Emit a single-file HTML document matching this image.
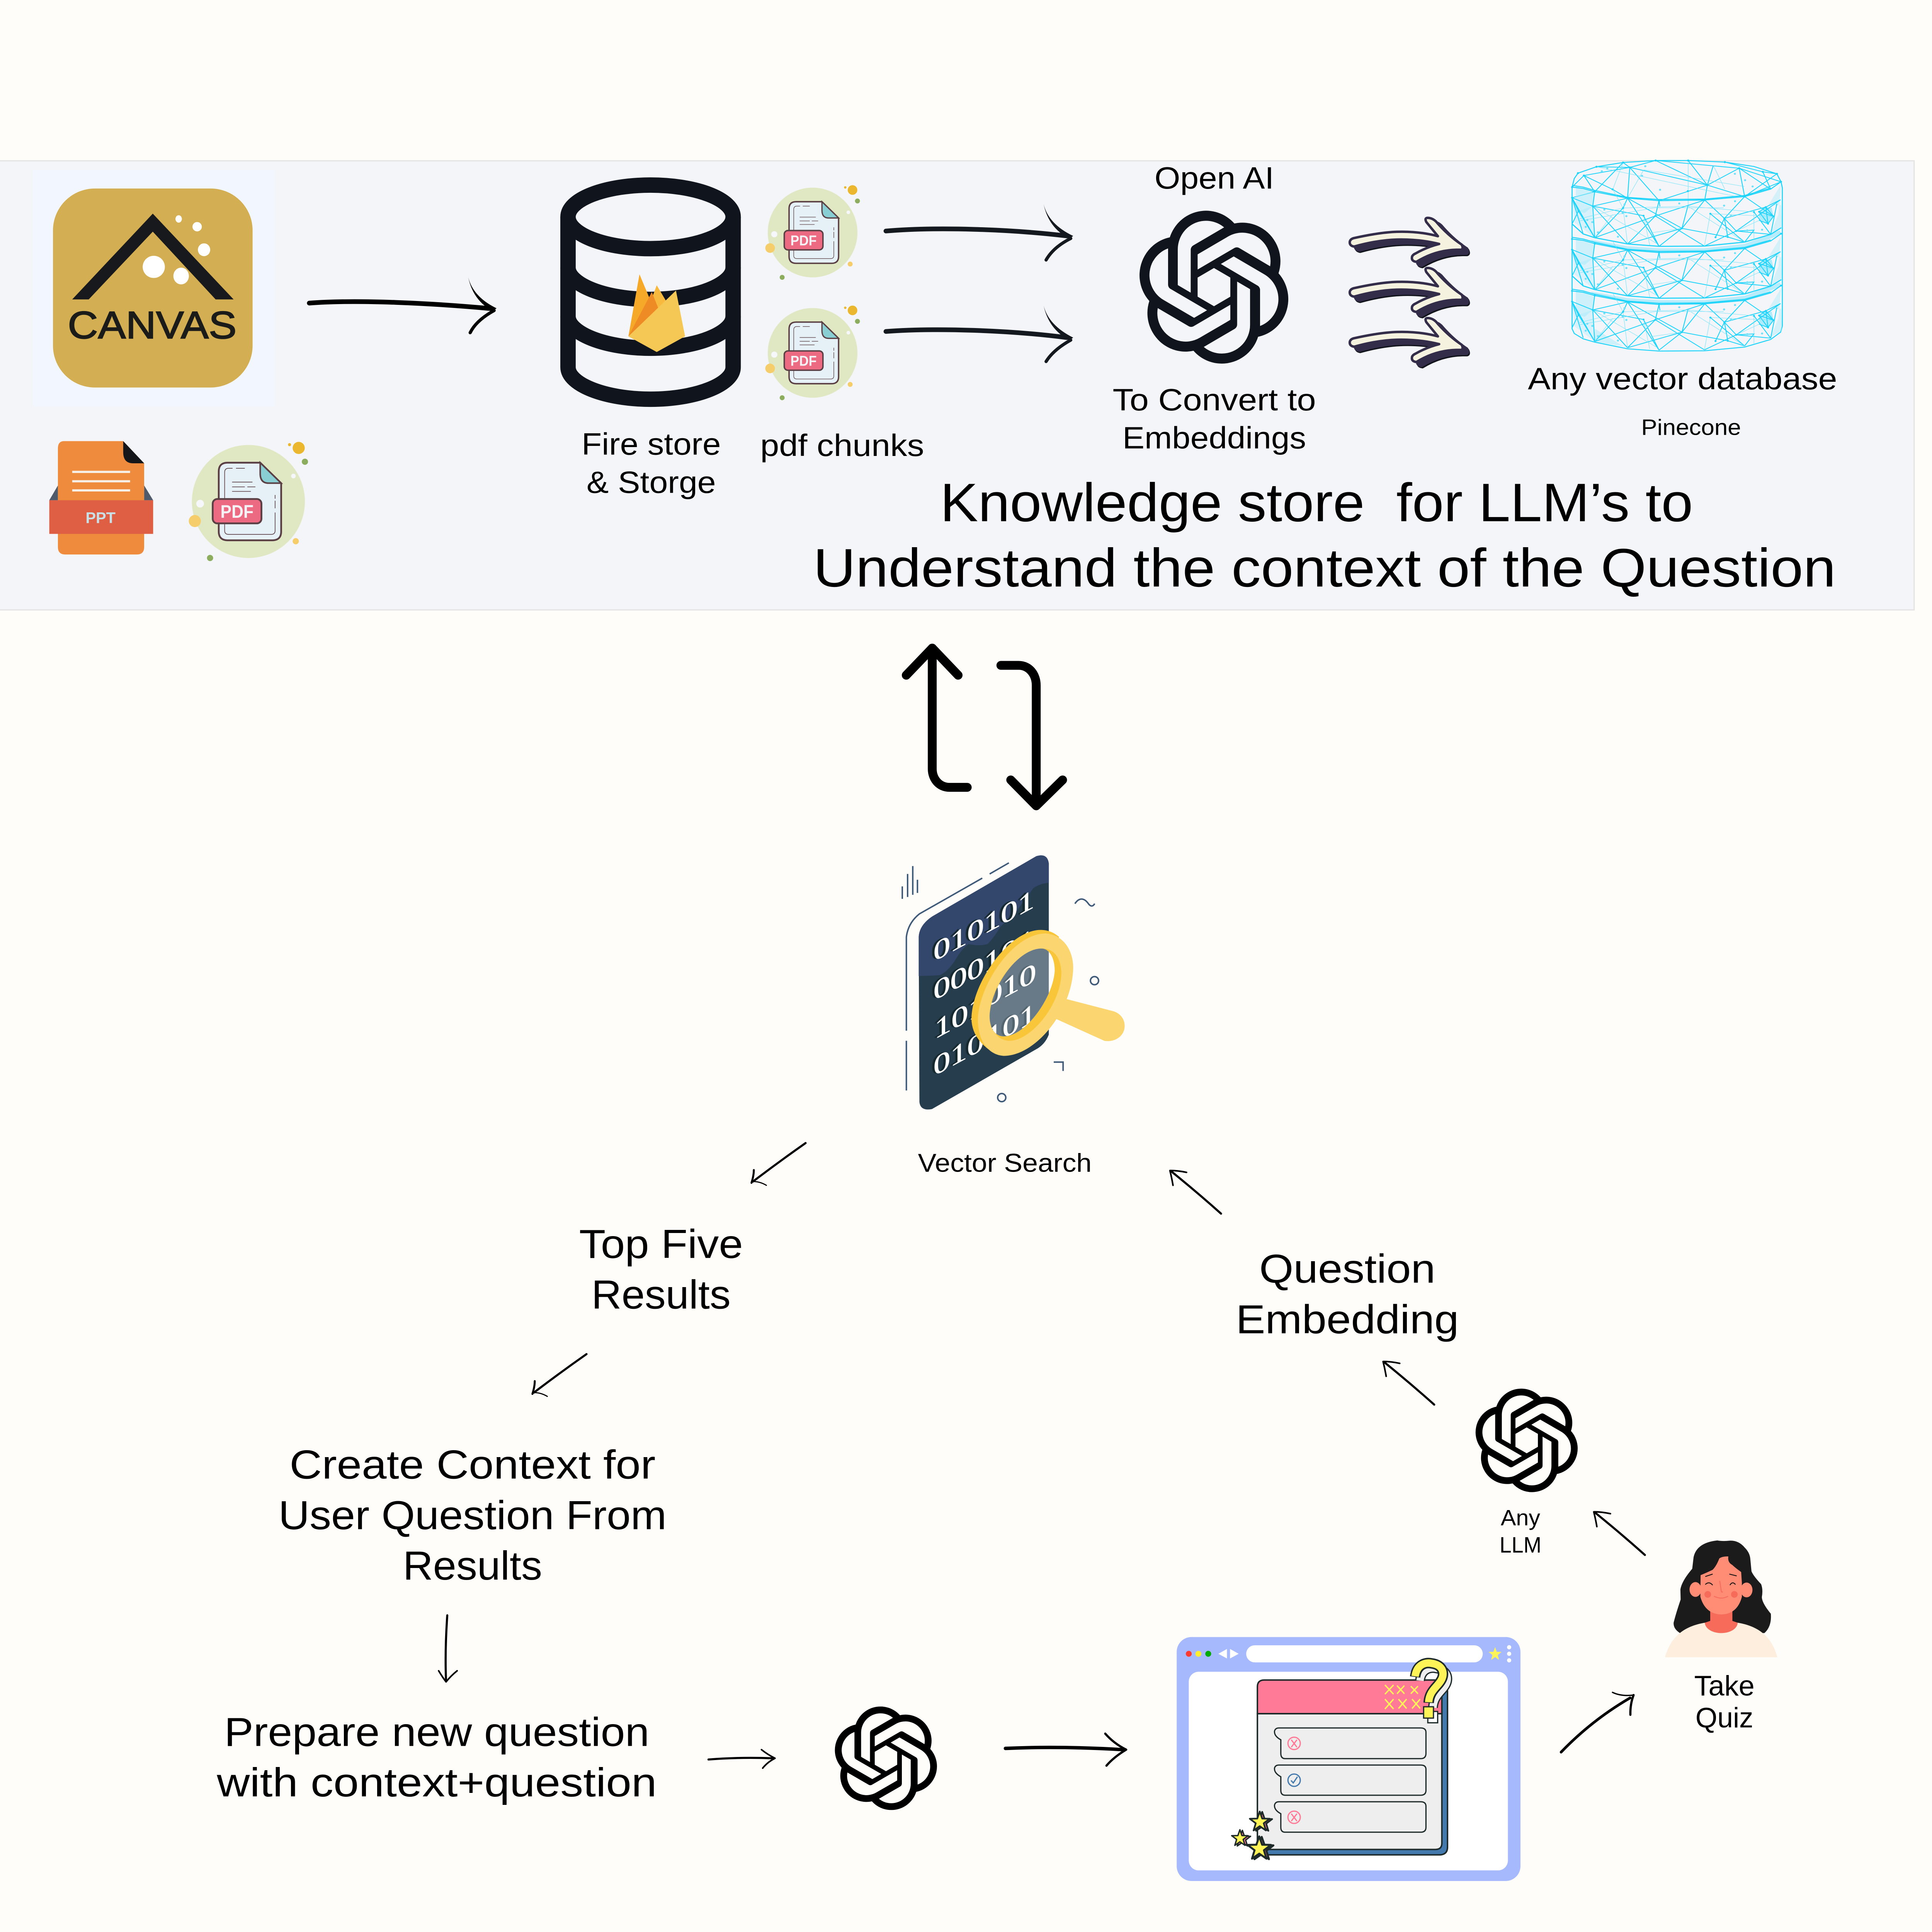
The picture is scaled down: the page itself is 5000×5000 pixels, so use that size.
<!DOCTYPE html>
<html><head><meta charset="utf-8"><title>Knowledge store diagram</title>
<style>
html,body{margin:0;padding:0;background:#fffdf9}
svg{display:block}
text{font-family:"Liberation Sans",sans-serif;fill:#000;white-space:pre}
.hand{fill:none;stroke:#000;stroke-linecap:round;stroke-linejoin:round}
.bin{fill:#fff;stroke:#fff;stroke-width:.35;font-family:"Liberation Serif",serif;font-size:22px}
</style></head><body>
<svg xmlns="http://www.w3.org/2000/svg" width="5000" height="5000" viewBox="0 0 1568 1568">
<rect width="1568" height="1568" fill="#fffdf9"/>
<rect x="-2" y="130.5" width="1555.5" height="364.5" fill="#f4f5f9" stroke="#e4e4e4" stroke-width="1"/>

<!-- Canvas logo -->
<rect x="27" y="138" width="196" height="192" fill="#f2f6fe"/>
<rect x="43" y="153" width="162" height="161.5" rx="34" fill="#d3ae52"/>
<path d="M124 173.4L58.6 243H72L124 188L175 243H189.6Z" fill="#17191c"/>
<g fill="#fff"><ellipse cx="145" cy="177.7" rx="2.6" ry="3"/><ellipse cx="160" cy="184" rx="3.8" ry="3.8"/><ellipse cx="165.6" cy="202.7" rx="5" ry="5.2"/><ellipse cx="124.8" cy="216.6" rx="9" ry="9"/><ellipse cx="147" cy="224" rx="6.3" ry="6.8"/></g>
<text x="55" y="274.5" font-size="31" textLength="137" lengthAdjust="spacingAndGlyphs" style="fill:#1b1c1a;stroke:#1b1c1a;stroke-width:.7">CANVAS</text>

<!-- PPT icon -->
<path d="M47 394L40 406H47ZM117 394L124.3 406H117Z" fill="#4f5a6a"/>
<path d="M52 358H100L117 376V444Q117 450 111 450H53Q47 450 47 444V364Q47 358 52 358Z" fill="#ee8b3d"/>
<path d="M100 358L117 376H108Q100 376 100 367Z" fill="#14161a"/>
<g stroke="#f6f0e8" stroke-width="1.8"><path d="M58.6 383H105.6M58.6 390.6H105.6M58.6 398H105.6"/></g>
<rect x="40" y="406" width="84.3" height="27.3" fill="#df5f45"/>
<text x="81.6" y="424.5" font-size="12.5" font-weight="700" text-anchor="middle" style="fill:#c9e0e6">PPT</text>

<!-- PDF icon big -->
<g transform="translate(201.6 407) scale(1.26)">
<circle r="36.4" fill="#dfe8c3"/>
<path d="M-13.4 -25H7.6L21.1 -11.8V19.3Q21.1 25 15.4 25H-13.4Q-19.1 25 -19.1 19.3V-19.3Q-19.1 -25 -13.4 -25Z" fill="#e6f1f7" stroke="#5a3f44" stroke-width="1.15"/>
<path d="M7.6 -25L21.1 -11.8H13Q7.6 -11.8 7.6 -18Z" fill="#88ced3" stroke="#5a3f44" stroke-width="1"/>
<path d="M-10.2 -21.4H-12.7Q-15.3 -21.4 -15.3 -18.8V18.8Q-15.3 21.2 -12.7 21.2H14.6Q17.2 21.2 17.2 18.8V7.1M17.2 4.4V-.5M17.2 -1.8V-4.2M-8 -21.4H-2.3M-10.5 -12.5H2.6M-10.5 -9.4H-2.3M-.7 -9.4H4.5M-10.5 -6.5H1.6" fill="none" stroke="#5a3f44" stroke-width=".42"/>
<rect x="-23" y="-1.6" width="31.4" height="15.7" rx="3" fill="#ec6a82" stroke="#5a3f44" stroke-width="1.15"/>
<text x="-18" y="10.5" font-size="11.7" font-weight="700" textLength="21.3" lengthAdjust="spacingAndGlyphs" style="fill:#f6f3f6">PDF</text>
<circle cx="32.4" cy="-34.5" r="3.9" fill="#eab72e"/><circle cx="26.5" cy="-36.6" r="1" fill="#eab72e"/><circle cx="36.4" cy="-25.6" r="2" fill="#8cad5d"/><circle cx="29" cy="-16.4" r="1.5" fill="#f6f7fb"/><circle cx="-31.1" cy="1.4" r="2.5" fill="#f6f7fb"/><circle cx="-34.5" cy="12.6" r="3.9" fill="#f5cd6a"/><circle cx="30.5" cy="25.6" r="2" fill="#f5cd6a"/><circle cx="-24.7" cy="36.4" r="2" fill="#8cad5d"/>
</g>

<!-- Arrow canvas to store -->
<path d="M251 246C290 243 350 246 399 250.5" class="hand" stroke-width="3.8"/>
<path d="M380 225Q384 241 403 250.2L400 252.5Q384 244 380 225Z"/>
<path d="M401 252C392 257 385 263 381.6 270" class="hand" stroke-width="2.6"/>

<!-- Database -->
<g fill="none" stroke="#10141c" stroke-width="12.5">
<ellipse cx="528" cy="176" rx="67" ry="25.8"/>
<path d="M461 176V298C461 312 491 324 528 324S595 312 595 298V176"/>
<path d="M461 217C461 231 491 243 528 243S595 231 595 217"/>
<path d="M461 256.6C461 270.6 491 282.6 528 282.6S595 270.6 595 256.6"/>
</g>
<path d="M510 273L519 222.6L533 256Z" fill="#f6a828"/>
<path d="M523 258L533 231.5L541 245L527 262Z" fill="#f8b93f"/>
<path d="M510 273L529 237L535 252Z" fill="#ef8b25"/>
<path d="M510 273L548.6 235.8L556 273L533 285.7Z" fill="#f5c855"/>

<!-- PDF icon top 1 -->
<g transform="translate(659.5 188.7)">
<circle r="36.4" fill="#dfe8c3"/>
<path d="M-13.4 -25H7.6L21.1 -11.8V19.3Q21.1 25 15.4 25H-13.4Q-19.1 25 -19.1 19.3V-19.3Q-19.1 -25 -13.4 -25Z" fill="#e6f1f7" stroke="#5a3f44" stroke-width="1.15"/>
<path d="M7.6 -25L21.1 -11.8H13Q7.6 -11.8 7.6 -18Z" fill="#88ced3" stroke="#5a3f44" stroke-width="1"/>
<path d="M-10.2 -21.4H-12.7Q-15.3 -21.4 -15.3 -18.8V18.8Q-15.3 21.2 -12.7 21.2H14.6Q17.2 21.2 17.2 18.8V7.1M17.2 4.4V-.5M17.2 -1.8V-4.2M-8 -21.4H-2.3M-10.5 -12.5H2.6M-10.5 -9.4H-2.3M-.7 -9.4H4.5M-10.5 -6.5H1.6" fill="none" stroke="#5a3f44" stroke-width=".42"/>
<rect x="-23" y="-1.6" width="31.4" height="15.7" rx="3" fill="#ec6a82" stroke="#5a3f44" stroke-width="1.15"/>
<text x="-18" y="10.5" font-size="11.7" font-weight="700" textLength="21.3" lengthAdjust="spacingAndGlyphs" style="fill:#f6f3f6">PDF</text>
<circle cx="32.4" cy="-34.5" r="3.9" fill="#eab72e"/><circle cx="26.5" cy="-36.6" r="1" fill="#eab72e"/><circle cx="36.4" cy="-25.6" r="2" fill="#8cad5d"/><circle cx="29" cy="-16.4" r="1.5" fill="#f6f7fb"/><circle cx="-31.1" cy="1.4" r="2.5" fill="#f6f7fb"/><circle cx="-34.5" cy="12.6" r="3.9" fill="#f5cd6a"/><circle cx="30.5" cy="25.6" r="2" fill="#f5cd6a"/><circle cx="-24.7" cy="36.4" r="2" fill="#8cad5d"/>
</g>
<!-- PDF icon top 2 -->
<g transform="translate(659.5 286.4)">
<circle r="36.4" fill="#dfe8c3"/>
<path d="M-13.4 -25H7.6L21.1 -11.8V19.3Q21.1 25 15.4 25H-13.4Q-19.1 25 -19.1 19.3V-19.3Q-19.1 -25 -13.4 -25Z" fill="#e6f1f7" stroke="#5a3f44" stroke-width="1.15"/>
<path d="M7.6 -25L21.1 -11.8H13Q7.6 -11.8 7.6 -18Z" fill="#88ced3" stroke="#5a3f44" stroke-width="1"/>
<path d="M-10.2 -21.4H-12.7Q-15.3 -21.4 -15.3 -18.8V18.8Q-15.3 21.2 -12.7 21.2H14.6Q17.2 21.2 17.2 18.8V7.1M17.2 4.4V-.5M17.2 -1.8V-4.2M-8 -21.4H-2.3M-10.5 -12.5H2.6M-10.5 -9.4H-2.3M-.7 -9.4H4.5M-10.5 -6.5H1.6" fill="none" stroke="#5a3f44" stroke-width=".42"/>
<rect x="-23" y="-1.6" width="31.4" height="15.7" rx="3" fill="#ec6a82" stroke="#5a3f44" stroke-width="1.15"/>
<text x="-18" y="10.5" font-size="11.7" font-weight="700" textLength="21.3" lengthAdjust="spacingAndGlyphs" style="fill:#f6f3f6">PDF</text>
<circle cx="32.4" cy="-34.5" r="3.9" fill="#eab72e"/><circle cx="26.5" cy="-36.6" r="1" fill="#eab72e"/><circle cx="36.4" cy="-25.6" r="2" fill="#8cad5d"/><circle cx="29" cy="-16.4" r="1.5" fill="#f6f7fb"/><circle cx="-31.1" cy="1.4" r="2.5" fill="#f6f7fb"/><circle cx="-34.5" cy="12.6" r="3.9" fill="#f5cd6a"/><circle cx="30.5" cy="25.6" r="2" fill="#f5cd6a"/><circle cx="-24.7" cy="36.4" r="2" fill="#8cad5d"/>
</g>

<!-- Arrows to OpenAI -->
<g style="--c:#14181f">
<path d="M719 187.5C760 184 820 186 866 191.5" class="hand" stroke-width="3.8" style="stroke:#14181f"/>
<path d="M847 165.7Q851 182 871 191.5L868 193.8Q851 185 847 165.7Z" fill="#14181f"/>
<path d="M869 193.5C860 198 853 204 849 211" class="hand" stroke-width="2.6" style="stroke:#14181f"/>
<path d="M719 269C760 266 820 268 866 274" class="hand" stroke-width="3.8" style="stroke:#14181f"/>
<path d="M847 248Q851 264 871 274L868 276.3Q851 267 847 248Z" fill="#14181f"/>
<path d="M869 276C860 281 853 287 849 293.4" class="hand" stroke-width="2.6" style="stroke:#14181f"/>
</g>

<!-- OpenAI logos -->
<path transform="translate(924 171) scale(5.1 5.17)" fill="#10141c" d="M22.2819 9.8211a5.9847 5.9847 0 0 0-.5157-4.9108 6.0462 6.0462 0 0 0-6.5098-2.9A6.0651 6.0651 0 0 0 4.9807 4.1818a5.9847 5.9847 0 0 0-3.9977 2.9 6.0462 6.0462 0 0 0 .7427 7.0966 5.98 5.98 0 0 0 .511 4.9107 6.051 6.051 0 0 0 6.5146 2.9001A5.9847 5.9847 0 0 0 13.2599 24a6.0557 6.0557 0 0 0 5.7718-4.2058 5.9894 5.9894 0 0 0 3.9977-2.9001 6.0557 6.0557 0 0 0-.7475-7.0729zm-9.022 12.6081a4.4755 4.4755 0 0 1-2.8764-1.0408l.1419-.0804 4.7783-2.7582a.7948.7948 0 0 0 .3927-.6813v-6.7369l2.02 1.1686a.071.071 0 0 1 .038.052v5.5826a4.504 4.504 0 0 1-4.4945 4.4944zm-9.6607-4.1254a4.4708 4.4708 0 0 1-.5346-3.0137l.142.0852 4.783 2.7582a.7712.7712 0 0 0 .7806 0l5.8428-3.3685v2.3324a.0804.0804 0 0 1-.0332.0615L9.74 19.9502a4.4992 4.4992 0 0 1-6.1408-1.6464zM2.3408 7.8956a4.485 4.485 0 0 1 2.3655-1.9728V11.6a.7664.7664 0 0 0 .3879.6765l5.8144 3.3543-2.0201 1.1685a.0757.0757 0 0 1-.071 0l-4.8303-2.7865A4.504 4.504 0 0 1 2.3408 7.872zm16.5963 3.8558L13.1038 8.364 15.1192 7.2a.0757.0757 0 0 1 .071 0l4.8303 2.7913a4.4944 4.4944 0 0 1-.6765 8.1042v-5.6772a.79.79 0 0 0-.407-.667zm2.0107-3.0231l-.142-.0852-4.7735-2.7818a.7759.7759 0 0 0-.7854 0L9.409 9.2297V6.8974a.0662.0662 0 0 1 .0284-.0615l4.8303-2.7866a4.4992 4.4992 0 0 1 6.6802 4.66zM8.3065 12.863l-2.02-1.1638a.0804.0804 0 0 1-.038-.0567V6.0742a4.4992 4.4992 0 0 1 7.3757-3.4537l-.142.0805L8.704 5.459a.7948.7948 0 0 0-.3927.6813zm1.0976-2.3654l2.602-1.4998 2.6069 1.4998v2.9994l-2.5974 1.4997-2.6067-1.4997Z"/>
<path transform="translate(677 1385) scale(3.5)" fill="#000" d="M22.2819 9.8211a5.9847 5.9847 0 0 0-.5157-4.9108 6.0462 6.0462 0 0 0-6.5098-2.9A6.0651 6.0651 0 0 0 4.9807 4.1818a5.9847 5.9847 0 0 0-3.9977 2.9 6.0462 6.0462 0 0 0 .7427 7.0966 5.98 5.98 0 0 0 .511 4.9107 6.051 6.051 0 0 0 6.5146 2.9001A5.9847 5.9847 0 0 0 13.2599 24a6.0557 6.0557 0 0 0 5.7718-4.2058 5.9894 5.9894 0 0 0 3.9977-2.9001 6.0557 6.0557 0 0 0-.7475-7.0729zm-9.022 12.6081a4.4755 4.4755 0 0 1-2.8764-1.0408l.1419-.0804 4.7783-2.7582a.7948.7948 0 0 0 .3927-.6813v-6.7369l2.02 1.1686a.071.071 0 0 1 .038.052v5.5826a4.504 4.504 0 0 1-4.4945 4.4944zm-9.6607-4.1254a4.4708 4.4708 0 0 1-.5346-3.0137l.142.0852 4.783 2.7582a.7712.7712 0 0 0 .7806 0l5.8428-3.3685v2.3324a.0804.0804 0 0 1-.0332.0615L9.74 19.9502a4.4992 4.4992 0 0 1-6.1408-1.6464zM2.3408 7.8956a4.485 4.485 0 0 1 2.3655-1.9728V11.6a.7664.7664 0 0 0 .3879.6765l5.8144 3.3543-2.0201 1.1685a.0757.0757 0 0 1-.071 0l-4.8303-2.7865A4.504 4.504 0 0 1 2.3408 7.872zm16.5963 3.8558L13.1038 8.364 15.1192 7.2a.0757.0757 0 0 1 .071 0l4.8303 2.7913a4.4944 4.4944 0 0 1-.6765 8.1042v-5.6772a.79.79 0 0 0-.407-.667zm2.0107-3.0231l-.142-.0852-4.7735-2.7818a.7759.7759 0 0 0-.7854 0L9.409 9.2297V6.8974a.0662.0662 0 0 1 .0284-.0615l4.8303-2.7866a4.4992 4.4992 0 0 1 6.6802 4.66zM8.3065 12.863l-2.02-1.1638a.0804.0804 0 0 1-.038-.0567V6.0742a4.4992 4.4992 0 0 1 7.3757-3.4537l-.142.0805L8.704 5.459a.7948.7948 0 0 0-.3927.6813zm1.0976-2.3654l2.602-1.4998 2.6069 1.4998v2.9994l-2.5974 1.4997-2.6067-1.4997Z"/>
<path transform="translate(1197 1127) scale(3.5)" fill="#000" d="M22.2819 9.8211a5.9847 5.9847 0 0 0-.5157-4.9108 6.0462 6.0462 0 0 0-6.5098-2.9A6.0651 6.0651 0 0 0 4.9807 4.1818a5.9847 5.9847 0 0 0-3.9977 2.9 6.0462 6.0462 0 0 0 .7427 7.0966 5.98 5.98 0 0 0 .511 4.9107 6.051 6.051 0 0 0 6.5146 2.9001A5.9847 5.9847 0 0 0 13.2599 24a6.0557 6.0557 0 0 0 5.7718-4.2058 5.9894 5.9894 0 0 0 3.9977-2.9001 6.0557 6.0557 0 0 0-.7475-7.0729zm-9.022 12.6081a4.4755 4.4755 0 0 1-2.8764-1.0408l.1419-.0804 4.7783-2.7582a.7948.7948 0 0 0 .3927-.6813v-6.7369l2.02 1.1686a.071.071 0 0 1 .038.052v5.5826a4.504 4.504 0 0 1-4.4945 4.4944zm-9.6607-4.1254a4.4708 4.4708 0 0 1-.5346-3.0137l.142.0852 4.783 2.7582a.7712.7712 0 0 0 .7806 0l5.8428-3.3685v2.3324a.0804.0804 0 0 1-.0332.0615L9.74 19.9502a4.4992 4.4992 0 0 1-6.1408-1.6464zM2.3408 7.8956a4.485 4.485 0 0 1 2.3655-1.9728V11.6a.7664.7664 0 0 0 .3879.6765l5.8144 3.3543-2.0201 1.1685a.0757.0757 0 0 1-.071 0l-4.8303-2.7865A4.504 4.504 0 0 1 2.3408 7.872zm16.5963 3.8558L13.1038 8.364 15.1192 7.2a.0757.0757 0 0 1 .071 0l4.8303 2.7913a4.4944 4.4944 0 0 1-.6765 8.1042v-5.6772a.79.79 0 0 0-.407-.667zm2.0107-3.0231l-.142-.0852-4.7735-2.7818a.7759.7759 0 0 0-.7854 0L9.409 9.2297V6.8974a.0662.0662 0 0 1 .0284-.0615l4.8303-2.7866a4.4992 4.4992 0 0 1 6.6802 4.66zM8.3065 12.863l-2.02-1.1638a.0804.0804 0 0 1-.038-.0567V6.0742a4.4992 4.4992 0 0 1 7.3757-3.4537l-.142.0805L8.704 5.459a.7948.7948 0 0 0-.3927.6813zm1.0976-2.3654l2.602-1.4998 2.6069 1.4998v2.9994l-2.5974 1.4997-2.6067-1.4997Z"/>

<!-- Triple stylised arrows -->
<defs>
<path id="fa" d="M1098.5 193.3Q1120 188.5 1134 188.1Q1152 187.6 1167 191.7L1157.6 180.2Q1155.5 176 1160.4 177Q1163 177.5 1165.4 179.7Q1175 191 1186.3 198.5Q1188 202 1185.8 202.7L1182.1 202.7Q1165 203 1149.5 212.5Q1145 212 1146.1 208Q1147 206.5 1148.7 205.8Q1158 200.5 1168 198Q1152 194 1134 194.4Q1118 194.8 1099 200.1Q1095 199.5 1095.5 196Q1096 194 1098.5 193.3Z"/>
<g id="fa3" stroke-linejoin="round" stroke-width="2">
<use href="#fa" transform="translate(5 4.2)" fill="#11141b" stroke="#11141b"/>
<use href="#fa" transform="translate(4.3 3.2)" fill="#342d4a" stroke="#342d4a"/>
<use href="#fa" fill="#f5f2df" stroke="#342d4a"/>
</g>
</defs>
<use href="#fa3" transform="translate(0 81.3)"/>
<use href="#fa3" transform="translate(0 40.65)"/>
<use href="#fa3"/>

<!-- Vector DB wireframe -->
<g transform="translate(1266.9 125.4) scale(.12 .108)">
<defs>
<g id="lay" fill="none">
<path d="M100 235L225 290L215 388L160 440L100 420Z" fill="#a5ebfc" opacity=".5" stroke="none"/>
<path d="M75 325L118 425L215 388L228 625L150 560L90 510Z" fill="#a5ebfc" opacity=".35" stroke="none"/>
<path d="M1488 225L1400 385L1490 380L1495 545L1420 590L1470 450Z" fill="#a5ebfc" opacity=".4" stroke="none"/>
<path d="M1385 395L1425 400L1437 465L1400 520L1340 495L1340 430Z" fill="#7fe4fb" opacity=".6" stroke="none"/>
<path d="M75 245L150 255L228 280L450 328L663 347L972 342L1242 316L1418 260L1488 205M75 232L150 245L228 270L450 322L663 338L972 335L1242 308L1418 252" stroke="#1fd4fb" stroke-width="7"/>
<path d="M228 280L215 388L228 625M450 328L215 388M450 328L420 402L228 625M450 328L663 690M450 328L818 555M663 347L638 462L450 672M663 347L669 390M972 342L818 555L663 690M972 342L638 462M972 342L1105 480L1185 575M1242 316L1105 480M1242 316L1437 465M1485 340L1185 575L970 688M215 388L450 672M215 388L558 460M558 460L663 690M818 555L1128 620M1105 480L1128 620M1105 480L1045 622M638 462L970 688M75 325L215 388M75 325L228 625M118 425L228 625M75 325L150 597M1385 395L1105 480M1385 395L1437 465L1400 520L1340 430L1385 395M1385 395L1400 520M1340 430L1437 465M1340 495L1400 520L1437 465M1305 432L1418 600M1460 370L1418 600M1485 340L1385 395M1185 575L1305 568L1242 658M1128 620L1242 658M1185 575L1418 600M858 388L818 555M450 672L818 555M228 625L638 462M1010 445L1242 658M75 522L118 425M75 325L118 425" stroke="#1fd4fb" stroke-width="6"/>
<path d="M118 485L420 402L858 388L1305 432M215 388L650 670M350 450L228 625M420 402L450 672M858 388L1242 658M1010 445L970 688M558 460L600 680M1305 432V640M1010 445L1437 465M118 500L640 400L1100 400M600 590L818 555M1340 495L1185 575M350 262L420 402" stroke="#6fe2fb" stroke-width="4" opacity=".7"/>
<path d="M228 280h0M450 328h0M663 347h0M972 342h0M1242 316h0M1488 205h0M75 245h0M75 325h0M215 388h0M638 462h0M558 460h0M818 555h0M1105 480h0M1010 445h0M1185 575h0M1385 395h0M1437 465h0M1400 520h0M1340 430h0M1045 622h0M1128 620h0M1305 432h0M118 425h0M420 402h0" stroke="#1fd4fb" stroke-width="14" stroke-linecap="round"/>
<path d="M293 414h0M417 440h0M442 463h0M178 492h0M212 508h0M167 544h0M586 512h0M1103 384h0M1177 351h0M800 368h0M1150 460h0M385 618h0M250 585h0M430 375h0M1260 570h0M1360 565h0" stroke="#6fe2fb" stroke-width="15" stroke-linecap="round"/>
</g>
</defs>
<path d="M200 640L450 690L663 705L970 705L1242 672L1480 570L1488 600L1242 712L972 735L663 737L450 720L228 670Z" fill="#8fe6fb" opacity=".6"/>
<path d="M200 1030L450 1080L663 1095L970 1095L1242 1062L1480 960L1488 990L1242 1102L972 1125L663 1127L450 1110L228 1060Z" fill="#8fe6fb" opacity=".6"/>
<path d="M228 1410L230 1310L420 1440Z" fill="#a5ebfc" opacity=".5"/>
<g fill="none" stroke="#1fd4fb" stroke-width="7">
<path d="M75 245L90 180L115 140L240 92L420 60L640 45L860 45L1108 57L1305 90L1460 145L1488 205L1497 250V1290L1485 1335L1418 1390L1242 1447L970 1475L663 1477L450 1460L228 1410L150 1385L90 1345L75 1310Z"/>
<path d="M75 522L150 597L228 625L450 672L663 690L970 688L1242 658L1418 600L1490 550M75 912L150 987L228 1015L450 1062L663 1080L970 1078L1242 1048L1418 990L1490 940" stroke-width="8"/>
<path d="M240 92L465 97L640 45M420 60L465 97M155 158L465 97M155 158L228 280M465 97L450 328M465 97L663 347M465 97L990 230M640 45L990 230M860 45L990 230M990 230L972 342M990 230L1205 103M990 230L1242 316M990 230L663 347M1205 103L1242 316M1205 103L1418 260M1365 130L1418 260M1488 205L1242 316M1460 145L1242 316M75 325L228 280M115 140L240 92M228 280L420 60M450 328L349 262L155 158M1030 82L990 230M1108 57L1365 130M640 45L1205 103M155 158L75 245M1460 145L1365 130M1205 103L1488 205" stroke-width="6"/>
<path d="M860 45V390M560 115L1240 240M420 60L350 262M560 115L450 328M1030 82L1108 260M240 92L1200 320" stroke="#6fe2fb" stroke-width="4" opacity=".7"/>
</g>
<path d="M155 158h0M465 97h0M990 230h0M1205 103h0M1365 130h0M640 45h0M860 45h0M420 60h0M240 92h0M1108 57h0M115 140h0M1460 145h0M349 262h0M858 275h0" stroke="#1fd4fb" stroke-width="15" stroke-linecap="round"/>
<path d="M570 88h0M276 125h0M548 160h0M670 265h0M1176 145h0M1245 193h0M1296 240h0M313 106h0" stroke="#6fe2fb" stroke-width="15" stroke-linecap="round"/>
<use href="#lay"/>
<use href="#lay" transform="translate(0 390)"/>
<use href="#lay" transform="translate(0 780)"/>
</g>

<!-- Sync arrows -->
<g fill="none" stroke="#000" stroke-width="7.2" stroke-linecap="round" stroke-linejoin="round">
<path d="M785 639H770.7C762 639 756.6 632 756.6 624V526"/>
<path d="M735.5 548L756.6 526L777.6 548"/>
<path d="M812.3 540H826.7C835 540 841 547 841 556.3V653"/>
<path d="M820.3 633L841 654L862.4 633"/>
</g>

<!-- Vector search illustration -->
<g fill="none" stroke="#3e5a78" stroke-width="1.2">
<path d="M732.3 719.4V729.5M736.6 709.3V728M740.8 702.9V726.2M744.6 714V724.7"/>
<path d="M735.6 836.5V760.5Q737 749 746.2 741.7L797.2 712.7M803.2 709.3L818.8 700.3M735.6 844.7V885"/>
<path d="M872.4 733.4C876 728 880 729 883 733C885 736 887 736 888.4 733.4"/>
<circle cx="888.3" cy="795.9" r="3.3"/><circle cx="813" cy="890.8" r="3.3"/>
<path d="M855.2 862H862.8V869.2"/>
</g>
<path d="M745.6 760.5Q746 751 756.4 743.9L841 694.9Q850 692 851.2 700.7V839.7Q848 848 840.4 851.9L756.4 900.1Q747 902 746.2 894.4Z" fill="#263d4d"/>
<path d="M745.6 760.5Q746 751 756.4 743.9L841 694.9Q850 692 851.2 700.7V716.5Q844 717 838.6 720.9L825.4 738.9L812.2 751.8Q806 762 801.4 766.2Q795 768 785.8 766.2Q780 771 776.2 777.7Q770 788 763 791.4Q755 792 745.6 792.1Z" fill="#33466b"/>
<g style="filter:drop-shadow(-1.4px .6px 0 #15292f)">
<text class="bin" transform="translate(757.6 780.6) skewY(-28.5)" textLength="82" lengthAdjust="spacingAndGlyphs">010101</text>
<text class="bin" transform="translate(757.6 812.3) skewY(-28.5)" textLength="82" lengthAdjust="spacingAndGlyphs">000101</text>
<text class="bin" transform="translate(758.5 843.5) skewY(-28.5)" textLength="82" lengthAdjust="spacingAndGlyphs">101010</text>
<text class="bin" transform="translate(757.6 873.5) skewY(-28.5)" textLength="82" lengthAdjust="spacingAndGlyphs">010101</text>
</g>
<g transform="translate(730.6 689.9) scale(.12 .144)">
<path d="M1125 840L1440 908C1490 920 1520 955 1518 995C1515 1050 1450 1085 1380 1075L1055 952Z" fill="#fbd56f"/>
<path d="M482 945C490 740 740 450 950 450Q1020 450 1075 490L600 1125Q480 1050 482 945Z" fill="#f9c63a"/>
<path d="M525 950C535 760 760 470 985 470C1110 480 1170 570 1170 665C1165 900 920 1160 700 1160C600 1155 525 1080 525 950Z" fill="#fbd56f"/>
<path d="M605 920C615 760 800 555 960 555C1050 555 1090 620 1090 700C1080 880 880 1075 740 1075C660 1075 600 1010 605 920Z" fill="#f9c63a"/>
<path d="M605 925C620 760 800 555 955 555C1010 555 1045 610 1045 680C1035 830 850 1050 700 1050C640 1050 600 1000 605 925Z" fill="#fffdf9"/>
</g>
<clipPath id="lens"><path transform="translate(730.6 689.9) scale(.12 .144)" d="M605 925C620 760 800 555 955 555C1010 555 1045 610 1045 680C1035 830 850 1050 700 1050C640 1050 600 1000 605 925Z"/></clipPath>
<g clip-path="url(#lens)">
<rect x="780" y="750" width="71.2" height="110" fill="#687a87"/>
<g style="filter:drop-shadow(-1.4px .6px 0 #53656f)">
<text class="bin" transform="translate(800 817.9) skewY(-28.5)" textLength="41" lengthAdjust="spacingAndGlyphs">010</text>
<text class="bin" transform="translate(800 850.5) skewY(-28.5)" textLength="41" lengthAdjust="spacingAndGlyphs">101</text>
</g>
</g>

<!-- Flow arrows -->
<defs>
<g id="sw" class="hand">
<path d="M653.8 927.7Q632 943 611 959" stroke-width="1.7"/>
<path d="M611.8 949.6Q611.8 954 609.9 960" stroke-width="1.6"/>
<path d="M610 959Q616 958.5 622 962" stroke-width=".9"/>
</g>
<g id="nw" class="hand">
<path d="M991 985Q972 968 951 951" stroke-width="1.7"/>
<path d="M952 962Q951 956 949.5 950" stroke-width="1.3"/>
<path d="M950 950Q956 950 963 951.5" stroke-width="1.3"/>
</g>
</defs>
<use href="#sw"/>
<use href="#sw" transform="translate(-177.8 171.3)"/>
<use href="#nw"/>
<use href="#nw" transform="translate(173 155)"/>
<use href="#nw" transform="translate(344 277)"/>
<g class="hand">
<path d="M363 1311Q361 1340 362 1364" stroke-width="1.7"/><path d="M356 1356Q359 1361 362 1365Q366 1360 371 1356" stroke-width="1.3"/>
<path d="M575 1428Q600 1426 627 1427" stroke-width="1.7"/><path d="M618 1420Q623 1424 629 1427Q623 1430 619 1435" stroke-width="1.3"/>
<path d="M816 1419Q860 1417 911 1420" stroke-width="2.8"/><path d="M897 1407Q904 1415 914 1420Q904 1426 898 1433" stroke-width="1.8"/>
<path d="M1267 1422Q1292 1396 1323 1378" stroke-width="2.2"/><path d="M1308.7 1373.5Q1316 1377 1325.8 1375.7" stroke-width="1.1"/><path d="M1325.8 1375.7Q1323 1383 1323.2 1391.7" stroke-width="1.8"/>
</g>

<!-- Quiz illustration -->
<rect x="955" y="1328.6" width="279" height="198" rx="12" fill="#a6b9fd"/>
<rect x="964.8" y="1356.8" width="259" height="161.2" rx="8" fill="#fff"/>
<circle cx="964.8" cy="1342.2" r="2.4" fill="#ff3b30"/><circle cx="972.6" cy="1342.2" r="2.4" fill="#ffef2f"/><circle cx="980.6" cy="1342.2" r="2.4" fill="#00aa00"/>
<path d="M995.8 1338.3L988.8 1342.2L995.8 1346ZM998.3 1338.3L1005.3 1342.2L998.3 1346Z" fill="#fff"/>
<rect x="1011.4" y="1335.3" width="192" height="13.9" rx="7" fill="#fff"/>
<polygon points="1213.4,1336.7 1214.7,1340.6 1218.7,1340.7 1215.5,1343.2 1216.6,1347.2 1213.4,1344.8 1210.2,1347.2 1211.3,1343.2 1208.1,1340.7 1212.1,1340.6" fill="#fff457"/>
<circle cx="1224.8" cy="1336.9" r="1.7" fill="#fff"/><circle cx="1224.8" cy="1342.2" r="1.7" fill="#fff"/><circle cx="1224.8" cy="1347.5" r="1.7" fill="#fff"/>
<path d="M1026 1368H1170Q1174.8 1368 1174.8 1373V1499Q1174.8 1505.4 1168 1505.4H1030Q1026 1505.4 1026 1500Z" fill="#4379ad" stroke="#1e2a2a" stroke-width="1.2"/>
<path d="M1020.5 1390.8H1170.2V1496Q1170.2 1501 1165 1501H1026Q1020.5 1501 1020.5 1496Z" fill="#eee" stroke="#1e2a2a" stroke-width="1.2"/>
<path d="M1020.5 1390.8V1369Q1020.5 1363.5 1026 1363.5H1170.2V1390.8Z" fill="#ff7a96" stroke="#1e2a2a" stroke-width="1.2"/>
<g fill="none" stroke="#1e2a2a" stroke-width="1">
<path d="M1038 1402.4H1153Q1157.3 1402.4 1157.3 1406V1423Q1157.3 1427.3 1153 1427.3H1043Q1039.5 1427.3 1039.5 1423V1412Q1034 1409 1034.4 1405Q1035 1402.4 1038 1402.4Z" fill="#eee"/>
<path d="M1038 1432.5H1153Q1157.3 1432.5 1157.3 1436V1453Q1157.3 1457 1153 1457H1043Q1039.5 1457 1039.5 1453V1442Q1034 1439 1034.4 1435Q1035 1432.5 1038 1432.5Z" fill="#eee"/>
<path d="M1038 1462.3H1153Q1157.3 1462.3 1157.3 1466V1483Q1157.3 1487 1153 1487H1043Q1039.5 1487 1039.5 1483V1472Q1034 1469 1034.4 1465Q1035 1462.3 1038 1462.3Z" fill="#eee"/>
</g>
<g fill="none" stroke-width="1">
<g stroke="#ff7a96"><circle cx="1050.3" cy="1414.9" r="5"/><path d="M1048 1412L1052.6 1418M1052.6 1412L1048 1418"/><circle cx="1050.3" cy="1474.9" r="5"/><path d="M1048 1472L1052.6 1478M1052.6 1472L1048 1478"/></g>
<g stroke="#4379ad"><circle cx="1050.3" cy="1444.8" r="5"/><path d="M1047.8 1445L1049.6 1447L1053 1442"/></g>
</g>
<g stroke="#fff457" stroke-width="1.1" fill="none"><path d="M1124 1367.5L1131 1375M1131 1367.5L1124 1375M1133.8 1368L1139.8 1374.6M1139.8 1368L1133.8 1374.6M1145 1368.5L1150.8 1374.6M1150.8 1368.5L1145 1374.6M1124 1379L1131 1387M1131 1379L1124 1387M1135 1379L1141.6 1386.6M1141.6 1379L1135 1386.6M1146 1379L1152.6 1386.6M1152.6 1379L1146 1386.6"/></g>
<g fill="none">
<path transform="translate(3.5 4)" d="M1149 1360C1150 1350 1158 1349 1162 1350C1170 1351 1173 1357 1170 1363C1167 1369 1160 1372 1159.5 1382" stroke="#1e2a2a" stroke-width="8"/>
<path transform="translate(3.5 4)" d="M1149 1360C1150 1350 1158 1349 1162 1350C1170 1351 1173 1357 1170 1363C1167 1369 1160 1372 1159.5 1382" stroke="#eee" stroke-width="6"/>
<path d="M1148.5 1361C1150 1350 1158 1349 1162 1350C1170 1351 1173 1357 1170 1363C1167 1369 1160 1372 1159.5 1382" stroke="#1e2a2a" stroke-width="8.5"/>
<path d="M1148.5 1360.5C1150 1350 1158 1349 1162 1350C1170 1351 1173 1357 1170 1363C1167 1369 1160 1372 1159.5 1381.5" stroke="#fff457" stroke-width="6"/>
</g>
<rect x="1158.8" y="1389" width="8" height="9.2" fill="#fff" stroke="#1e2a2a"/>
<rect x="1155.4" y="1385.2" width="8" height="9.2" fill="#fff457" stroke="#1e2a2a"/>
<g stroke="#1e2a2a" stroke-width=".16" stroke-linejoin="round">
<polygon transform="translate(1024.4 1479) scale(8.5)" fill="#ff7a96" points="0,-1 .235,-.324 .951,-.309 .38,.124 .588,.809 0,.4 -.588,.809 -.38,.124 -.951,-.309 -.235,-.324"/>
<polygon transform="translate(1022.4 1478.7) scale(8.5)" fill="#fff457" points="0,-1 .235,-.324 .951,-.309 .38,.124 .588,.809 0,.4 -.588,.809 -.38,.124 -.951,-.309 -.235,-.324"/>
<polygon transform="translate(1008.3 1492.5) scale(7)" fill="#ff7a96" points="0,-1 .235,-.324 .951,-.309 .38,.124 .588,.809 0,.4 -.588,.809 -.38,.124 -.951,-.309 -.235,-.324"/>
<polygon transform="translate(1006.3 1492) scale(7)" fill="#fff457" points="0,-1 .235,-.324 .951,-.309 .38,.124 .588,.809 0,.4 -.588,.809 -.38,.124 -.951,-.309 -.235,-.324"/>
<polygon transform="translate(1024 1500.8) scale(10)" fill="#ff7a96" points="0,-1 .235,-.324 .951,-.309 .38,.124 .588,.809 0,.4 -.588,.809 -.38,.124 -.951,-.309 -.235,-.324"/>
<polygon transform="translate(1022 1500.4) scale(10)" fill="#fff457" points="0,-1 .235,-.324 .951,-.309 .38,.124 .588,.809 0,.4 -.588,.809 -.38,.124 -.951,-.309 -.235,-.324"/>
</g>

<!-- Girl -->
<path d="M1393.8 1250.2Q1398 1251 1403.7 1250.4Q1411 1250 1416 1256Q1420 1260 1420.5 1264.8L1421.5 1275.3Q1423 1279 1429.3 1285.7Q1431 1290 1429.9 1296.2Q1430 1301 1437.2 1309.7Q1438 1320 1432 1325.4H1363.5Q1358 1322 1358.3 1317Q1360 1310 1364 1298.2L1363.8 1289.9Q1365 1283 1373.4 1273.2L1374.5 1263.8Q1377 1252 1393.8 1250.2Z" fill="#1b1b1b"/>
<path d="M1351.3 1345C1356 1328 1368 1316 1397 1316C1426 1316 1438 1328 1442.4 1345Z" fill="#fdeedd"/>
<path d="M1388 1300H1406V1315.5L1410.3 1317C1410 1322 1404 1325.4 1397 1325.4C1390 1325.4 1384 1322 1383.6 1317L1388 1315.5Z" fill="#f66b5a"/>
<ellipse cx="1376" cy="1290" rx="4.8" ry="6" fill="#ff8c75"/><ellipse cx="1417.5" cy="1290.4" rx="4.8" ry="6" fill="#ff8c75"/>
<path d="M1380.2 1278.4Q1386 1276 1390 1274Q1393 1271 1395.4 1264.8Q1398 1263 1402.7 1263.2Q1402 1268 1405.8 1270Q1409 1273 1413.1 1275.8L1413.7 1284.7V1296Q1410 1310 1397 1310.3Q1384 1310 1380 1296Z" fill="#ff8c75"/>
<circle cx="1386" cy="1294" r="2.7" fill="#f66b5a"/><circle cx="1407.6" cy="1294" r="2.7" fill="#f66b5a"/>
<path d="M1391 1295.5Q1397 1298.5 1402.5 1295.5M1395.7 1283L1397 1291.5Q1397 1292.3 1398.3 1292" fill="none" stroke="#f66b5a" stroke-width=".7"/>
<path d="M1384 1279.5L1390 1277.5M1403.5 1277.5L1409.5 1279M1384 1286Q1387 1283 1390 1286.5M1404 1286.5Q1406 1283 1408.5 1286" fill="none" stroke="#111" stroke-width=".7"/>

<!-- Labels -->
<text x="472" y="369" font-size="25" textLength="113" lengthAdjust="spacingAndGlyphs">Fire store</text>
<text x="476" y="400" font-size="25" textLength="105" lengthAdjust="spacingAndGlyphs">&amp; Storge</text>
<text x="617" y="370" font-size="25" textLength="133" lengthAdjust="spacingAndGlyphs">pdf chunks</text>
<text x="937" y="153" font-size="25" textLength="97" lengthAdjust="spacingAndGlyphs">Open AI</text>
<text x="903" y="333" font-size="25" textLength="165" lengthAdjust="spacingAndGlyphs">To Convert to</text>
<text x="911" y="364" font-size="25" textLength="149" lengthAdjust="spacingAndGlyphs">Embeddings</text>
<text x="1240" y="316" font-size="25" textLength="251" lengthAdjust="spacingAndGlyphs">Any vector database</text>
<text x="1332" y="353" font-size="18" textLength="81" lengthAdjust="spacingAndGlyphs">Pinecone</text>
<text x="763" y="423" font-size="44" textLength="611" lengthAdjust="spacingAndGlyphs">Knowledge store  for LLM’s to</text>
<text x="660" y="476" font-size="44" textLength="830" lengthAdjust="spacingAndGlyphs">Understand the context of the Question</text>
<text x="745" y="951" font-size="21" textLength="141" lengthAdjust="spacingAndGlyphs">Vector Search</text>
<text x="470" y="1021" font-size="33" textLength="133" lengthAdjust="spacingAndGlyphs">Top Five</text>
<text x="480" y="1062" font-size="33" textLength="113" lengthAdjust="spacingAndGlyphs">Results</text>
<text x="1022" y="1041" font-size="33" textLength="143" lengthAdjust="spacingAndGlyphs">Question</text>
<text x="1003" y="1082" font-size="33" textLength="181" lengthAdjust="spacingAndGlyphs">Embedding</text>
<text x="235" y="1200" font-size="33" textLength="297" lengthAdjust="spacingAndGlyphs">Create Context for</text>
<text x="226" y="1241" font-size="33" textLength="315" lengthAdjust="spacingAndGlyphs">User Question From</text>
<text x="327" y="1282" font-size="33" textLength="113" lengthAdjust="spacingAndGlyphs">Results</text>
<text x="182" y="1417" font-size="33" textLength="345" lengthAdjust="spacingAndGlyphs">Prepare new question</text>
<text x="176" y="1458" font-size="33" textLength="357" lengthAdjust="spacingAndGlyphs">with context+question</text>
<text x="1218" y="1238" font-size="18" textLength="32" lengthAdjust="spacingAndGlyphs">Any</text>
<text x="1217" y="1260" font-size="18" textLength="34" lengthAdjust="spacingAndGlyphs">LLM</text>
<text x="1375" y="1376" font-size="23" textLength="49" lengthAdjust="spacingAndGlyphs">Take</text>
<text x="1376" y="1402" font-size="23" textLength="47" lengthAdjust="spacingAndGlyphs">Quiz</text>
</svg>
</body></html>
